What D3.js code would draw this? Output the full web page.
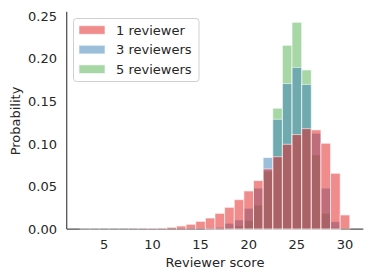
<!DOCTYPE html>
<html>
<head>
<meta charset="utf-8">
<script src="https://cdn.jsdelivr.net/npm/d3@7"></script>
<style>
  body { margin: 0; background: #fff; }
  svg text { font-family: "DejaVu Sans", sans-serif; fill: #262626; }
</style>
</head>
<body>
<svg id="chart" width="373" height="279"></svg>
<script>
// scores 3..30, one bin per integer score
var scores = d3.range(3, 31)

// probability per score
var oneReviewer = [0.0001, 0.0001, 0.0001, 0.0001, 0.0001, 0.0002, 0.0004, 0.0006, 0.0012, 0.002,
        0.0035, 0.0055, 0.009, 0.0129, 0.0184, 0.0255, 0.0345, 0.0447, 0.0569, 0.0706,
        0.085, 0.0996, 0.111, 0.118, 0.1165, 0.1008, 0.0655, 0.0165]
var threeReviewers = [0, 0, 0, 0, 0, 0, 0, 0, 0, 0,
        0, 0, 0, 0.0005, 0.002, 0.0067, 0.0106, 0.0243, 0.048, 0.084,
        0.129, 0.171, 0.190, 0.170, 0.1125, 0.048, 0.0086, 0]
var fiveReviewers = [0, 0, 0, 0, 0, 0, 0, 0, 0, 0,
        0, 0, 0, 0, 0, 0.0016, 0.0035, 0.0098, 0.028, 0.068,
        0.142, 0.216, 0.243, 0.187, 0.087, 0.0184, 0.0016, 0]

var legendLabels = ['1 reviewer', '3 reviewers', '5 reviewers']
var colors = ['#e41a1c', '#377eb8', '#4daf4a']
var yTicks = [0, 0.05, 0.10, 0.15, 0.20, 0.25]
var xTicks = [5, 10, 15, 20, 25, 30]

var svg = d3.select('#chart')

var x = d3.scaleLinear().domain([1.1, 31.9]).range([66.7, 363.3])
var y = d3.scaleLinear().domain([0, 0.2555]).range([229, 11.7])

// spines (left + bottom only)
svg.append('line')
        .attr('x1', x.range()[0]).attr('x2', x.range()[0])
        .attr('y1', y.range()[1]).attr('y2', y(0))
        .attr('stroke', '#4d4d4d').attr('stroke-width', 1.25)
svg.append('line')
        .attr('x1', x.range()[0]).attr('x2', x.range()[1])
        .attr('y1', y(0)).attr('y2', y(0))
        .attr('stroke', '#4d4d4d').attr('stroke-width', 1.25)

// tick labels, no tick marks
svg.selectAll('.ytick')
        .data(yTicks)
        .enter().append('text')
        .attr('x', 57)
        .attr('y', function (d) { return y(d) })
        .attr('dy', '0.35em')
        .attr('text-anchor', 'end')
        .attr('font-size', 13)
        .text(d3.format('.2f'))

svg.selectAll('.xtick')
        .data(xTicks)
        .enter().append('text')
        .attr('x', function (d) { return x(d) })
        .attr('y', 244.5)
        .attr('dy', '0.35em')
        .attr('text-anchor', 'middle')
        .attr('font-size', 13)
        .text(function (d) { return d })

svg.append('text')
        .attr('x', x(16.5)).attr('y', 262)
        .attr('dy', '0.35em')
        .attr('text-anchor', 'middle')
        .attr('font-size', 13)
        .text('Reviewer score')

svg.append('text')
        .attr('transform', 'translate(15,121) rotate(-90)')
        .attr('dy', '0.35em')
        .attr('text-anchor', 'middle')
        .attr('font-size', 13)
        .text('Probability')

// bars: 5 reviewers at the back, 1 reviewer on top
var series = [oneReviewer, threeReviewers, fiveReviewers]
;[2, 1, 0].forEach(function (s) {
        svg.append('g')
                .selectAll('rect')
                .data(series[s].map(function (v, i) { return { score: scores[i], value: v } }))
                .enter().append('rect')
                .attr('x', function (d) { return x(d.score - 0.5) })
                .attr('width', function (d) { return x(d.score + 0.5) - x(d.score - 0.5) })
                .attr('y', function (d) { return y(d.value) })
                .attr('height', function (d) { return y(0) - y(d.value) })
                .attr('fill', colors[s])
                .attr('fill-opacity', 0.5)
                .attr('stroke', '#fff')
                .attr('stroke-opacity', 0.6)
                .attr('stroke-width', 1)
})

// legend
var legend = svg.append('g')
legend.append('rect')
        .attr('x', 73.5).attr('y', 18.5)
        .attr('width', 125.5).attr('height', 63)
        .attr('rx', 3)
        .attr('fill', '#fff').attr('fill-opacity', 0.8)
        .attr('stroke', '#d0d0d0').attr('stroke-width', 1)

legendLabels.forEach(function (label, i) {
        var cy = 30 + i * 19.6
        legend.append('rect')
                .attr('x', 79).attr('y', cy - 4.3)
                .attr('width', 26).attr('height', 8.6)
                .attr('fill', colors[i]).attr('fill-opacity', 0.5)
                .attr('stroke', '#fff').attr('stroke-opacity', 0.6)
        legend.append('text')
                .attr('x', 116).attr('y', cy)
                .attr('dy', '0.35em')
                .attr('font-size', 13)
                .text(label)
})
</script>
</body>
</html>
